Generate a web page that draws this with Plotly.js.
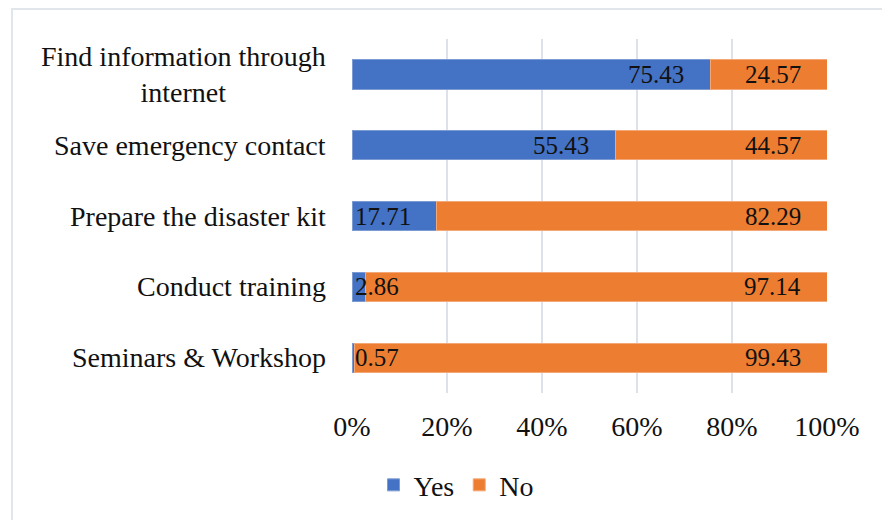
<!DOCTYPE html>
<html>
<head>
<meta charset="utf-8">
<script src="https://cdn.plot.ly/plotly-3.0.1.min.js"></script>
<style>
  html, body { margin: 0; padding: 0; background: #ffffff; overflow: hidden; }
  #frame { position: absolute; left: 11px; top: 8px; width: 900px; height: 560px; border: 2px solid #E1E5EC; box-sizing: border-box; }
  #chart { position: absolute; left: 0; top: 0; width: 882px; height: 520px; }
</style>
</head>
<body>
<div id="frame"></div>
<div id="chart"></div>
<script>
const categories = ["Find information through<br>internet", "Save emergency contact", "Prepare the disaster kit", "Conduct training", "Seminars & Workshop"];
const yesValues = [75.43, 55.43, 17.71, 2.86, 0.57];
const noValues = [24.57, 44.57, 82.29, 97.14, 99.43];
const tickVals = [0, 20, 40, 60, 80, 100];
const tickText = ["0%", "20%", "40%", "60%", "80%", "100%"];

const FONT = "Liberation Serif, Times New Roman, serif";
const blue = "#4472C4";
const orange = "#ED7D31";

const traces = [
  { type: "bar", orientation: "h", name: "Yes", y: categories, x: yesValues,
    marker: { color: blue, line: { color: "#7D9BD3", width: 1 } }, hoverinfo: "x+y" },
  { type: "bar", orientation: "h", name: "No", y: categories, x: noValues,
    marker: { color: orange, line: { color: "#F4A877", width: 1 } }, hoverinfo: "x+y" }
];

const annotations = [];
categories.forEach((c, i) => {
  annotations.push({ xref: "paper", x: 0, xanchor: "right", xshift: -24, yref: "y", y: c,
    text: c, align: "center", showarrow: false, font: { family: FONT, size: 28, color: "#111" } });
  const yv = yesValues[i];
  if (yv < 20) {
    annotations.push({ xref: "x", x: 0, xanchor: "left", xshift: 1, yref: "y", y: c,
      text: yv.toFixed(2), showarrow: false, font: { family: FONT, size: 25, color: "#111" } });
  } else {
    annotations.push({ xref: "x", x: yv, xanchor: "right", xshift: -24, yref: "y", y: c,
      text: yv.toFixed(2), showarrow: false, font: { family: FONT, size: 25, color: "#111" } });
  }
  annotations.push({ xref: "x", x: yv + noValues[i], xanchor: "right", xshift: -24, yref: "y", y: c,
    text: noValues[i].toFixed(2), showarrow: false, font: { family: FONT, size: 25, color: "#111" } });
});

const layout = {
  width: 882, height: 520,
  margin: { l: 352, r: 55, t: 39, b: 127, pad: 0 },
  paper_bgcolor: "rgba(0,0,0,0)", plot_bgcolor: "rgba(0,0,0,0)",
  barmode: "stack", bargap: 0.59,
  font: { family: FONT, size: 28, color: "#111" },
  xaxis: { range: [0, 100], tickvals: tickVals, ticktext: tickText, showgrid: true,
    gridcolor: "#DCE1EA", gridwidth: 2, zeroline: false, showline: false, ticks: "",
    ticklen: 0, ticklabelstandoff: 14, tickfont: { family: FONT, size: 28, color: "#111" }, fixedrange: true },
  yaxis: { autorange: "reversed", showticklabels: false, showgrid: false, zeroline: false,
    showline: false, ticks: "", fixedrange: true },
  showlegend: true,
  legend: { orientation: "h", xref: "container", yref: "container", x: 0.517, y: 0.067,
    xanchor: "center", yanchor: "middle", font: { family: FONT, size: 28, color: "#111" },
    traceorder: "normal", itemwidth: 30 },
  annotations: annotations
};

Plotly.newPlot("chart", traces, layout, { displayModeBar: false, staticPlot: true });
</script>
</body>
</html>
